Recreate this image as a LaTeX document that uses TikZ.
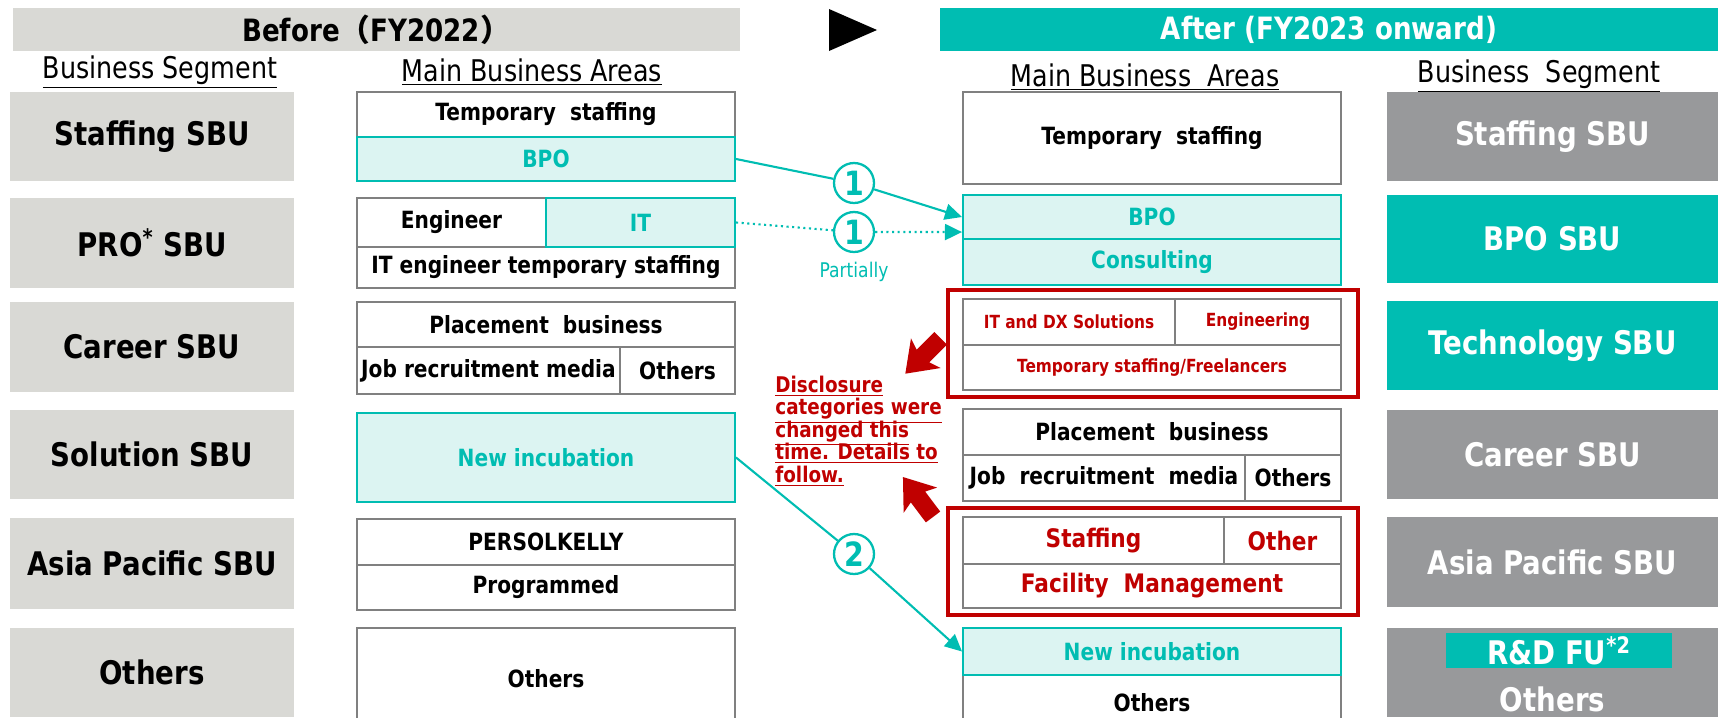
\documentclass[tikz,border=0pt]{standalone}
\usepackage{fontspec}
\setmainfont{DejaVu Sans}[FakeStretch=0.85]
\newfontfamily\cjk{Noto Sans CJK JP}
\usetikzlibrary{positioning,arrows.meta}

\definecolor{tealmain}{RGB}{0,189,178}
\definecolor{tealpale}{RGB}{220,244,242}
\definecolor{leftgray}{RGB}{217,217,213}
\definecolor{rightgray}{RGB}{152,153,155}
\definecolor{bordergray}{RGB}{128,128,128}
\definecolor{redmain}{RGB}{192,0,0}

% underlined line of the note, kept off the line spacing
\newcommand{\noteline}[1]{\smash{\underline{#1}}}

\begin{document}
\begin{tikzpicture}[x=0.02cm,y=-0.02cm]
	\tikzset{
		bar/.style={rectangle,inner sep=0pt,minimum height=0.86cm,font=\fontsize{17.5}{20}\selectfont\bfseries},
		colhead/.style={font=\fontsize{17}{19}\selectfont},
		seg/.style={rectangle,inner sep=0pt,fill=leftgray,font=\fontsize{18.5}{22}\selectfont\bfseries,minimum width=5.68cm},
		rseg/.style={seg,fill=rightgray,text=white,minimum width=6.62cm},
		tseg/.style={rseg,fill=tealmain},
		cell/.style={rectangle,inner sep=0pt,draw=bordergray,line width=1.2pt,fill=white,font=\fontsize{13.5}{16}\selectfont\bfseries},
		tcell/.style={cell,draw=tealmain,fill=tealpale,text=tealmain},
		rcell/.style={cell,text=redmain},
		smallred/.style={rcell,font=\fontsize{10.3}{12}\selectfont\bfseries},
		bigred/.style={rcell,font=\fontsize{14.5}{17}\selectfont\bfseries},
		frame/.style={draw=redmain,line width=2.6pt},
		num/.style={circle,draw=tealmain,line width=1.3pt,fill=white,text=tealmain,minimum size=0.8cm,inner sep=0pt,font=\fontsize{19}{19}\selectfont\bfseries},
		link/.style={draw=tealmain,line width=1.2pt,>={Triangle[length=0.34cm,width=0.32cm]}}
	}
	\useasboundingbox (0,0) rectangle (1718,717);

	%% Title bars
	\node[bar,fill=leftgray,minimum width=14.54cm] (before) at (376.5,29.5) {Before{\cjk （}FY2022{\cjk ）}};
	\fill (829,9) -- (877,30) -- (829,51) -- cycle;
	\node[bar,fill=tealmain,text=white,minimum width=15.56cm] (after) at (1329,29.5) {After (FY2023 onward)};

	%% Column headers
	\node[colhead] (lsegHead) at (160,72) {\underline{Business Segment}};
	\node[colhead] (lareaHead) at (532,72) {\underline{Main Business Areas}};
	\node[colhead] (rareaHead) at (1145,77) {\underline{Main Business\ \ Areas}};
	\node[colhead] (rsegHead) at (1539,76) {\underline{Business\ \ Segment}};

	%% Before: segments
	\node[seg,minimum height=1.78cm] (lStaff) at (152,136.5) {Staffing SBU};
	\node[seg,minimum height=1.8cm] (lPro) at (152,243) {PRO\textsuperscript{*} SBU};
	\node[seg,minimum height=1.8cm] (lCareer) at (152,347) {Career SBU};
	\node[seg,minimum height=1.78cm] (lSol) at (152,454.5) {Solution SBU};
	\node[seg,minimum height=1.82cm] (lAsia) at (152,563.5) {Asia Pacific SBU};
	\node[seg,minimum height=1.78cm] (lOth) at (152,672.5) {Others};

	%% Before: business areas
	\node[cell,minimum width=7.56cm,minimum height=0.9cm] (laTemp) at (546,114.5) {Temporary\ \ staffing};
	\node[tcell,minimum width=7.56cm,minimum height=0.88cm] (laBPO) at (546,159) {BPO};
	\node[cell,minimum width=3.78cm,minimum height=0.98cm] (laEng) at (451.5,222.5) {Engineer};
	\node[cell,minimum width=7.56cm,minimum height=0.82cm] (laITeng) at (546,267.5) {IT engineer temporary staffing};
	\node[tcell,minimum width=3.78cm,minimum height=0.98cm] (laIT) at (640.5,222.5) {IT};
	\node[cell,minimum width=7.56cm,minimum height=0.9cm] (laPlace) at (546,324.5) {Placement\ \ business};
	\node[cell,minimum width=5.26cm,minimum height=0.94cm] (laJob) at (488.5,370.5) {Job recruitment media};
	\node[cell,minimum width=2.3cm,minimum height=0.94cm] (laJobOth) at (677.5,370.5) {Others};
	\node[tcell,minimum width=7.56cm,minimum height=1.78cm] (laNew) at (546,457.5) {New incubation};
	\node[cell,minimum width=7.56cm,minimum height=0.92cm] (laPers) at (546,542) {PERSOLKELLY};
	\node[cell,minimum width=7.56cm,minimum height=0.9cm] (laProg) at (546,587.5) {Programmed};
	\node[cell,minimum width=7.56cm,minimum height=2.04cm] (laOth) at (546,679) {Others};

	%% After: business areas
	\node[cell,minimum width=7.56cm,minimum height=1.84cm] (raTemp) at (1152,138) {Temporary\ \ staffing};
	\node[tcell,minimum width=7.56cm,minimum height=0.92cm] (raCons) at (1152,262) {Consulting};
	\node[tcell,minimum width=7.56cm,minimum height=0.88cm] (raBPO) at (1152,217) {BPO};

	\draw[frame] (948,290) rectangle (1358,397);
	\node[smallred,minimum width=4.24cm,minimum height=0.92cm] (raITDX) at (1069,322) {IT and DX Solutions};
	\node[smallred,minimum width=3.32cm,minimum height=0.92cm] (raEngr) at (1258,322) {Engineering};
	\node[smallred,minimum width=7.56cm,minimum height=0.9cm] (raFree) at (1152,367.5) {Temporary staffing/Freelancers};

	\node[cell,minimum width=7.56cm,minimum height=0.92cm] (raPlace) at (1152,432) {Placement\ \ business};
	\node[cell,minimum width=5.64cm,minimum height=0.92cm] (raJob) at (1104,478) {Job\ \ recruitment\ \ media};
	\node[cell,minimum width=1.92cm,minimum height=0.92cm] (raJobOth) at (1293,478) {Others};

	\draw[frame] (948,508) rectangle (1358,615);
	\node[bigred,minimum width=5.22cm,minimum height=0.94cm] (raStaff) at (1093.5,540.5) {Staffing};
	\node[bigred,minimum width=2.34cm,minimum height=0.94cm] (raOther) at (1282.5,540.5) {Other};
	\node[bigred,minimum width=7.56cm,minimum height=0.88cm] (raFM) at (1152,586) {Facility\ \ Management};

	\node[cell,minimum width=7.56cm,minimum height=1.1cm] (raOth) at (1152,702.5) {Others};
	\node[tcell,minimum width=7.56cm,minimum height=0.94cm] (raNew) at (1152,651.5) {New incubation};

	%% After: segments
	\node[rseg,minimum height=1.78cm] (rStaff) at (1552.5,136.5) {Staffing SBU};
	\node[tseg,minimum height=1.76cm] (rBPO) at (1552.5,239) {BPO SBU};
	\node[tseg,minimum height=1.78cm] (rTech) at (1552.5,345.5) {Technology SBU};
	\node[rseg,minimum height=1.78cm] (rCareer) at (1552.5,454.5) {Career SBU};
	\node[rseg,minimum height=1.8cm] (rAsia) at (1552.5,562) {Asia Pacific SBU};
	\node[rseg,minimum height=1.78cm] (rOth) at (1552.5,672.5) {};
	\node[tseg,minimum width=4.52cm,minimum height=0.7cm] (rRD) at (1559,650.5) {R\&D FU\textsuperscript{*2}};
	\node[font=\fontsize{18.5}{22}\selectfont\bfseries,text=white] (rOthTxt) at (1552.5,699) {Others};

	%% Moves between the two layouts
	\node[num] (n1a) at (854,183) {1};
	\node[num] (n1b) at (854,232) {1};
	\node[text=tealmain,font=\fontsize{11.5}{13}\selectfont] (partial) at (854,272) {Partially};
	\node[num] (n2) at (854,554) {2};
	\draw[link] (laBPO.east) -- (n1a);
	\draw[link,->] (n1a) -- (raBPO.west);
	\draw[link,dotted] (laIT.east) -- (n1b);
	\draw[link,dotted,->] (n1b) -- ([yshift=0.16cm]raBPO.south west);
	\draw[link] (laNew.east) -- (n2);
	\draw[link,->] (n2) -- (raNew.west);

	%% Block arrows round the note
	\foreach \cx/\cy/\ang in {923/356/225, 918/497/127}
		\fill[redmain,shift={(\cx,\cy)},rotate=\ang]
			(-25,-9) -- (0,-9) -- (-4,-21) -- (25,0) -- (-4,21) -- (0,9) -- (-25,9) -- cycle;
	\node[anchor=north west,align=left,inner sep=0pt,text=redmain,font=\fontsize{12.3}{12.8}\selectfont\bfseries] (note) at (775,392)
		{\noteline{Disclosure}\\\noteline{categories were}\\\noteline{changed this}\\\noteline{time. Details to}\\\noteline{follow.}};
\end{tikzpicture}
\end{document}
